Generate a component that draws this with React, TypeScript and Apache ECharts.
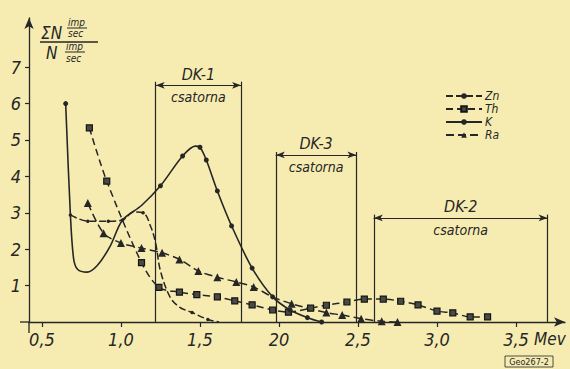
import React, { useEffect, useRef } from "react";
import * as echarts from "echarts";

// ---- axis ticks ----
const xTicks = [0.5, 1.0, 1.5, 2.0, 2.5, 3.0, 3.5];
const xTickLabels = ["0,5", "1,0", "1,5", "20", "2,5", "3,0", "3,5"];
const yTicks = [1, 2, 3, 4, 5, 6, 7];

// ---- series (energy MeV, ratio) ; mark = 1 where a marker is drawn ----
const seriesNames = ["Zn", "Th", "K", "Ra"];

const znX = [0.68, 0.79, 0.92, 1.01, 1.08, 1.14, 1.19, 1.22, 1.25, 1.31, 1.37, 1.45, 1.55, 1.62];
const znY = [2.94, 2.77, 2.77, 2.8, 3.02, 3.0, 2.6, 2.15, 1.4, 0.69, 0.41, 0.26, 0.07, 0.0];
const znMark = [1, 1, 1, 1, 0, 1, 0, 0, 0, 0, 0, 1, 1, 0];

const thX = [0.8, 0.91, 1.13, 1.24, 1.37, 1.48, 1.61, 1.72, 1.83, 1.96, 2.06, 2.2, 2.3, 2.43, 2.54, 2.66, 2.77, 2.88, 3.0, 3.1, 3.21, 3.32];
const thY = [5.33, 3.87, 1.63, 0.95, 0.82, 0.75, 0.69, 0.58, 0.47, 0.33, 0.27, 0.38, 0.46, 0.55, 0.63, 0.63, 0.57, 0.47, 0.3, 0.25, 0.14, 0.14];
const thMark = thX.map(() => 1);

const kX = [0.65, 0.68, 0.7, 0.725, 0.785, 0.85, 0.93, 1.01, 1.13, 1.25, 1.39, 1.47, 1.5, 1.54, 1.61, 1.7, 1.83, 1.96, 2.07, 2.18, 2.27];
const kY = [6.0, 2.94, 1.75, 1.45, 1.37, 1.55, 2.07, 2.8, 3.2, 3.74, 4.56, 4.83, 4.8, 4.45, 3.6, 2.64, 1.48, 0.69, 0.33, 0.12, 0.0];
const kMark = [1, 0, 0, 0, 0, 0, 0, 0, 0, 1, 1, 0, 1, 1, 1, 1, 1, 1, 1, 1, 1];

const raX = [0.79, 0.89, 1.0, 1.13, 1.26, 1.37, 1.49, 1.61, 1.73, 1.84, 1.96, 2.08, 2.3, 2.4, 2.52, 2.65, 2.75];
const raY = [3.27, 2.44, 2.17, 2.03, 1.9, 1.72, 1.4, 1.23, 1.1, 0.96, 0.69, 0.5, 0.26, 0.19, 0.09, 0.02, 0.0];
const raMark = [1, 1, 1, 1, 1, 1, 1, 1, 1, 1, 0, 1, 1, 1, 1, 1, 1];

// ---- detector channels ----
const dkNames = ["DK-1", "DK-3", "DK-2"];
const dkStart = [1.22, 1.98, 2.6];
const dkEnd = [1.76, 2.49, 3.7];
const dkTop = [6.6, 4.67, 2.95];
const dkArrow = [6.5, 4.59, 2.86];
const dkSub = "csatorna";

const INK = "#262626";
const PAPER = "#f6ecb2";
const FONT = "'Liberation Sans Narrow', 'DejaVu Sans Condensed', 'Liberation Sans', 'DejaVu Sans', sans-serif";

function pts(xs: number[], ys: number[], marks: number[]) {
  return xs.map((x, i) => (marks[i] ? { value: [x, ys[i]] } : { value: [x, ys[i]], symbolSize: 0 }));
}

export default function App() {
  const ref = useRef<HTMLDivElement>(null);
  useEffect(() => {
    document.body.style.margin = "0";
    document.body.style.background = PAPER;
    const chart = echarts.init(ref.current!, null, { renderer: "svg" });

    const dkLines: any[] = [];
    dkNames.forEach((n, i) => {
      dkLines.push([{ coord: [dkStart[i], 0] }, { coord: [dkStart[i], dkTop[i]] }]);
      dkLines.push([{ coord: [dkEnd[i], 0] }, { coord: [dkEnd[i], dkTop[i]] }]);
      dkLines.push([
        {
          coord: [dkStart[i], dkArrow[i]],
          symbol: "arrow",
          symbolSize: [5, 9],
          label: { show: true, position: "insideMiddleTop", formatter: n, fontSize: 16, distance: 3 },
        },
        { coord: [dkEnd[i], dkArrow[i]], symbol: "arrow", symbolSize: [5, 9] },
      ]);
      dkLines.push([
        {
          coord: [dkStart[i], dkArrow[i]],
          label: { show: true, position: "insideMiddleBottom", formatter: dkSub, fontSize: 14, distance: 5 },
        },
        { coord: [dkEnd[i], dkArrow[i]] },
      ]);
    });

    const common = {
      type: "line",
      showSymbol: true,
      lineStyle: { color: INK, width: 1.6 },
      itemStyle: { color: INK },
      emphasis: { disabled: true },
    };

    const labelStyle = { fontFamily: FONT, fontStyle: "italic", color: INK };

    chart.setOption({
      animation: false,
      backgroundColor: PAPER,
      textStyle: { fontFamily: FONT },
      grid: { left: 29, right: 5, top: 18, bottom: 47, containLabel: false },
      legend: {
        data: seriesNames,
        orient: "vertical",
        left: 440,
        top: 85,
        itemWidth: 36,
        itemHeight: 7,
        itemGap: 1,
        textStyle: { ...labelStyle, fontSize: 12, lineHeight: 12, padding: [0, 0, 0, -2] },
        selectedMode: false,
      },
      xAxis: {
        type: "value",
        min: 0.418,
        max: 3.81,
        splitLine: { show: false },
        axisLine: { onZero: false, symbol: ["none", "arrow"], symbolSize: [7, 11], lineStyle: { color: INK, width: 1.3 } },
        axisTick: { show: true, customValues: xTicks, length: 5, lineStyle: { color: INK, width: 1.2 } },
        axisLabel: {
          customValues: xTicks,
          margin: 8,
          fontSize: 18,
          ...labelStyle,
          formatter: (v: number) => {
            const i = xTicks.findIndex((t) => Math.abs(t - v) < 1e-6);
            return i >= 0 ? xTickLabels[i] : "";
          },
        },
      },
      yAxis: {
        type: "value",
        min: 0,
        max: 8.35,
        splitLine: { show: false },
        axisLine: { show: true, onZero: false, symbol: ["none", "arrow"], symbolSize: [7, 11], lineStyle: { color: INK, width: 1.3 } },
        axisTick: { show: true, customValues: yTicks, length: 4, lineStyle: { color: INK, width: 1.2 } },
        axisLabel: { customValues: yTicks, margin: 8, fontSize: 18, ...labelStyle },
      },
      series: [
        {
          ...common,
          name: "Zn",
          smooth: 0.35,
          symbol: "circle",
          symbolSize: 3.5,
          lineStyle: { color: INK, width: 1.5, type: [7, 3] },
          data: pts(znX, znY, znMark),
        },
        {
          ...common,
          name: "Th",
          smooth: 0.3,
          symbol: "rect",
          symbolSize: 6,
          itemStyle: { color: "#4a4a44", borderColor: "#151515", borderWidth: 1.2 },
          lineStyle: { color: INK, width: 1.5, type: [7, 4] },
          data: pts(thX, thY, thMark),
        },
        {
          ...common,
          name: "K",
          smooth: 0.3,
          symbol: "circle",
          symbolSize: 5,
          data: pts(kX, kY, kMark),
        },
        {
          ...common,
          name: "Ra",
          smooth: 0.3,
          symbol: "triangle",
          symbolSize: 8,
          lineStyle: { color: INK, width: 1.5, type: [8, 4] },
          data: pts(raX, raY, raMark),
        },
        {
          type: "line",
          name: "channels",
          data: [],
          silent: true,
          markLine: {
            silent: true,
            symbol: ["none", "none"],
            lineStyle: { color: INK, width: 1.2, type: "solid" },
            label: { show: false, color: INK, fontFamily: FONT, fontStyle: "italic" },
            emphasis: { disabled: true },
            data: dkLines,
          },
        },
      ],
    });

    const mev = chart.convertToPixel({ gridIndex: 0 }, [3.5, 0]) as number[];
    const it = { fontFamily: FONT, fontStyle: "italic", fill: INK };
    chart.setOption({
      graphic: [
        { type: "text", x: mev[0] + 18, y: mev[1] + 17, style: { ...it, text: "Mev", fontSize: 17, verticalAlign: "middle" } },
        // y-axis title: ΣN (imp/sec) / N (imp/sec)
        { type: "text", x: 41, y: 33, style: { ...it, text: "ΣN", fontSize: 17, verticalAlign: "middle" } },
        { type: "text", x: 68, y: 22, style: { ...it, text: "imp", fontSize: 10, verticalAlign: "middle" } },
        { type: "line", shape: { x1: 67, y1: 28, x2: 87, y2: 28 }, style: { stroke: INK, lineWidth: 1 } },
        { type: "text", x: 68, y: 33.5, style: { ...it, text: "sec", fontSize: 10, verticalAlign: "middle" } },
        { type: "line", shape: { x1: 40, y1: 42, x2: 98, y2: 42 }, style: { stroke: INK, lineWidth: 1.3 } },
        { type: "text", x: 46, y: 53, style: { ...it, text: "N", fontSize: 17, verticalAlign: "middle" } },
        { type: "text", x: 66, y: 46.5, style: { ...it, text: "imp", fontSize: 10, verticalAlign: "middle" } },
        { type: "line", shape: { x1: 65, y1: 52, x2: 85, y2: 52 }, style: { stroke: INK, lineWidth: 1 } },
        { type: "text", x: 66, y: 58, style: { ...it, text: "sec", fontSize: 10, verticalAlign: "middle" } },
        // axis overshoot stubs
        { type: "line", shape: { x1: 20, y1: 322, x2: 29, y2: 322 }, style: { stroke: INK, lineWidth: 1.3 } },
        { type: "line", shape: { x1: 29, y1: 322, x2: 29, y2: 333 }, style: { stroke: INK, lineWidth: 1.3 } },
        // figure id box
        { type: "rect", shape: { x: 505, y: 356, width: 48, height: 11 }, style: { fill: "none", stroke: INK, lineWidth: 0.8 } },
        { type: "text", x: 529, y: 361.5, style: { fontFamily: FONT, fill: INK, text: "Geo267-2", fontSize: 9, align: "center", verticalAlign: "middle" } },
      ],
    });

    return () => chart.dispose();
  }, []);
  return <div ref={ref} style={{ position: "fixed", left: 0, top: 0, width: 570, height: 369 }} />;
}
